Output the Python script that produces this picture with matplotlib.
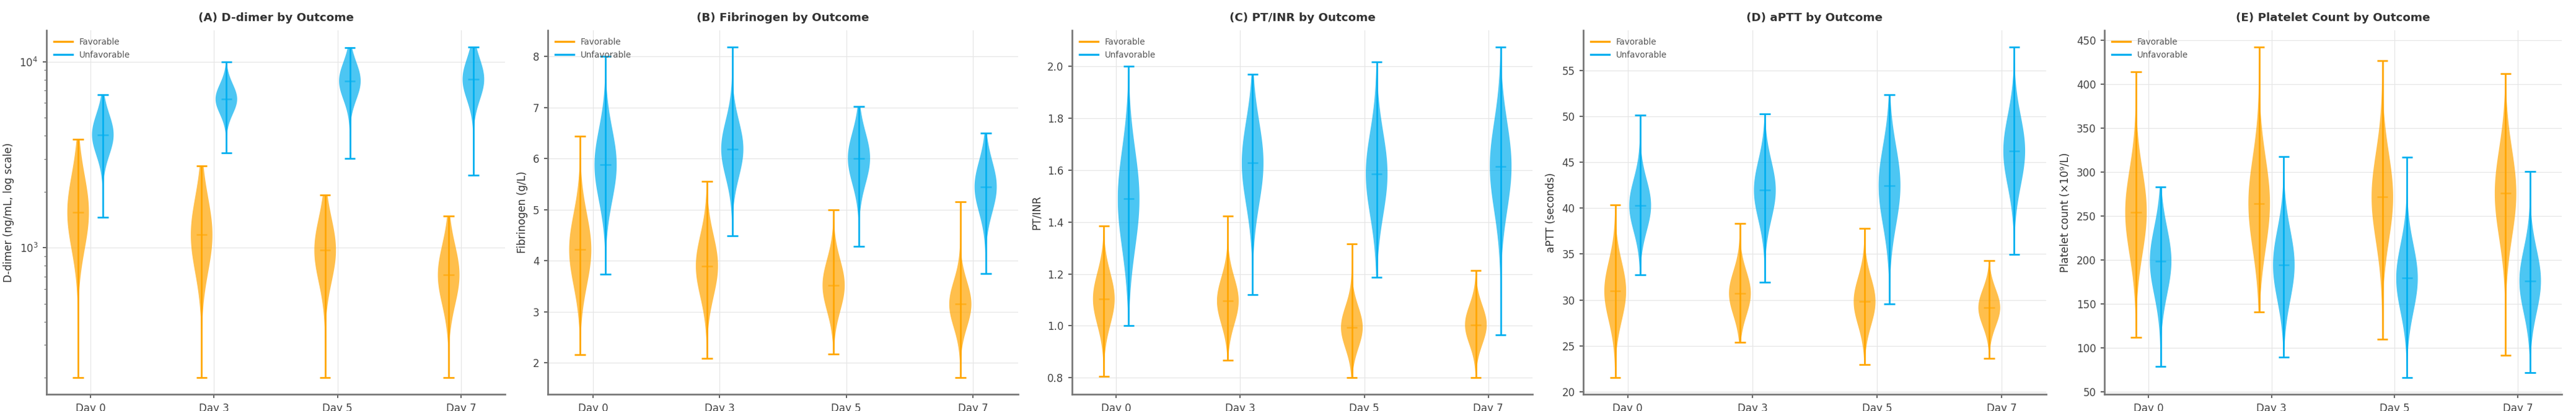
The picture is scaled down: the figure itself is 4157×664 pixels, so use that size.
import numpy as np
import matplotlib
matplotlib.use("Agg")
import matplotlib.pyplot as plt

# ---------------- data ----------------
days = ["Day 0", "Day 3", "Day 5", "Day 7"]
groups = ["Favorable", "Unfavorable"]

# (A) D-dimer, ng/mL (log scale) -- centre, min, max, spread (spread in log10 units)
ddimer_fav_center = [1549, 1172, 970, 714]
ddimer_fav_min = [200, 200, 200, 200]
ddimer_fav_max = [3811, 2750, 1914, 1477]
ddimer_fav_sd = [0.20, 0.20, 0.17, 0.16]
ddimer_unf_center = [4048, 6290, 7875, 8035]
ddimer_unf_min = [1452, 3243, 3013, 2462]
ddimer_unf_max = [6655, 10000, 11910, 12000]
ddimer_unf_sd = [0.11, 0.08, 0.10, 0.11]

# (B) Fibrinogen, g/L
fib_fav_center = [4.22, 3.90, 3.52, 3.15]
fib_fav_min = [2.16, 2.09, 2.18, 1.71]
fib_fav_max = [6.44, 5.56, 5.00, 5.16]
fib_fav_sd = [0.70, 0.60, 0.50, 0.45]
fib_unf_center = [5.88, 6.19, 6.01, 5.45]
fib_unf_min = [3.74, 4.49, 4.28, 3.75]
fib_unf_max = [8.00, 8.19, 7.02, 6.50]
fib_unf_sd = [0.70, 0.55, 0.50, 0.50]

# (C) PT/INR
inr_fav_center = [1.104, 1.096, 0.994, 1.004]
inr_fav_min = [0.806, 0.868, 0.800, 0.800]
inr_fav_max = [1.386, 1.424, 1.315, 1.214]
inr_fav_sd = [0.10, 0.09, 0.08, 0.075]
inr_unf_center = [1.489, 1.628, 1.586, 1.615]
inr_unf_min = [1.000, 1.121, 1.187, 0.965]
inr_unf_max = [2.000, 1.969, 2.016, 2.075]
inr_unf_sd = [0.19, 0.16, 0.16, 0.17]

# (D) aPTT, seconds
aptt_fav_center = [30.96, 30.72, 29.83, 29.15]
aptt_fav_min = [21.51, 25.39, 22.96, 23.61]
aptt_fav_max = [40.34, 38.33, 37.77, 34.27]
aptt_fav_sd = [3.2, 2.4, 2.6, 2.0]
aptt_unf_center = [40.31, 41.97, 42.47, 46.26]
aptt_unf_min = [32.73, 31.90, 29.53, 34.98]
aptt_unf_max = [50.14, 50.32, 52.36, 57.60]
aptt_unf_sd = [2.8, 3.2, 4.3, 3.8]

# (E) Platelet count, x10^9/L
plt_fav_center = [254.3, 264.2, 271.3, 275.6]
plt_fav_min = [111.7, 140.7, 109.6, 91.4]
plt_fav_max = [413.6, 442.3, 426.5, 412.0]
plt_fav_sd = [48, 52, 50, 50]
plt_unf_center = [198.5, 194.1, 179.0, 175.9]
plt_unf_min = [78.7, 89.2, 65.7, 71.6]
plt_unf_max = [282.7, 317.6, 316.4, 300.3]
plt_unf_sd = [38, 40, 38, 36]

panels = [
    dict(title="(A) D-dimer by Outcome", ylabel="D-dimer (ng/mL, log scale)", log=True,
         fav=(ddimer_fav_center, ddimer_fav_min, ddimer_fav_max, ddimer_fav_sd),
         unf=(ddimer_unf_center, ddimer_unf_min, ddimer_unf_max, ddimer_unf_sd)),
    dict(title="(B) Fibrinogen by Outcome", ylabel="Fibrinogen (g/L)", log=False,
         fav=(fib_fav_center, fib_fav_min, fib_fav_max, fib_fav_sd),
         unf=(fib_unf_center, fib_unf_min, fib_unf_max, fib_unf_sd)),
    dict(title="(C) PT/INR by Outcome", ylabel="PT/INR", log=False,
         fav=(inr_fav_center, inr_fav_min, inr_fav_max, inr_fav_sd),
         unf=(inr_unf_center, inr_unf_min, inr_unf_max, inr_unf_sd)),
    dict(title="(D) aPTT by Outcome", ylabel="aPTT (seconds)", log=False,
         fav=(aptt_fav_center, aptt_fav_min, aptt_fav_max, aptt_fav_sd),
         unf=(aptt_unf_center, aptt_unf_min, aptt_unf_max, aptt_unf_sd)),
    dict(title="(E) Platelet Count by Outcome", ylabel="Platelet count (×10⁹/L)", log=False,
         fav=(plt_fav_center, plt_fav_min, plt_fav_max, plt_fav_sd),
         unf=(plt_unf_center, plt_unf_min, plt_unf_max, plt_unf_sd)),
]

FAV_COLOR = "#FFA500"
UNF_COLOR = "#00AEEF"

# ---------------- figure ----------------
W, H, DPI = 4157, 664, 150
fig = plt.figure(figsize=(W / DPI, H / DPI), dpi=DPI)

ax_px = [(75, 815), (884, 1643), (1730, 2473), (2555, 3302), (3396, 4134)]
top_px, bot_px = 49, 637

base_pos = np.arange(len(days)) * 2.0
offset = 0.2
vwidth = 0.35


def make_stats(center, vmin, vmax, sd, log):
    stats = []
    for c, lo, hi, s in zip(center, vmin, vmax, sd):
        if log:
            c_, lo_, hi_ = np.log10(c), np.log10(lo), np.log10(hi)
        else:
            c_, lo_, hi_ = c, lo, hi
        coords = np.linspace(lo_, hi_, 200)
        vals = np.exp(-0.5 * ((coords - c_) / s) ** 2)
        if log:
            coords = 10 ** coords
        stats.append(dict(coords=coords, vals=vals, mean=c, median=c, min=lo, max=hi))
    return stats


for p, (x0, x1) in zip(panels, ax_px):
    ax = fig.add_axes([x0 / W, 1 - bot_px / H, (x1 - x0) / W, (bot_px - top_px) / H])
    for key, sign, color, label in (("fav", -1, FAV_COLOR, groups[0]),
                                     ("unf", 1, UNF_COLOR, groups[1])):
        st = make_stats(*p[key], log=p["log"])
        parts = ax.violin(st, positions=base_pos + sign * offset, widths=vwidth,
                          showmeans=False, showmedians=True, showextrema=True)
        for b in parts["bodies"]:
            b.set_facecolor(color)
            b.set_edgecolor("none")
            b.set_alpha(0.7)
        for k in ("cbars", "cmins", "cmaxes"):
            parts[k].set_color(color)
            parts[k].set_linewidth(1.3)
        parts["cmedians"].set_color(color)
        parts["cmedians"].set_alpha(0.6)
        parts["cmedians"].set_linewidth(1.3)
        ax.plot([], [], color=color, lw=1.6, label=label)

    if p["log"]:
        ax.set_yscale("log")
        lo = np.log10(min(min(p["fav"][1]), min(p["unf"][1])))
        hi = np.log10(max(max(p["fav"][2]), max(p["unf"][2])))
        pad = 0.05 * (hi - lo)
        ax.set_ylim(10 ** (lo - pad), 10 ** (hi + pad))

    ax.set_xticks(base_pos)
    ax.set_xticklabels(days)
    ax.set_title(p["title"], fontsize=8.8, fontweight="bold", color="#333333", pad=7)
    ax.set_ylabel(p["ylabel"], fontsize=8.2, color="#333333")
    ax.tick_params(axis="both", labelsize=8, colors="#444444", length=3, width=0.8)
    ax.tick_params(axis="y", which="minor", length=2, width=0.6, colors="#777777")
    for s in ("top", "right"):
        ax.spines[s].set_visible(False)
    for s in ("left", "bottom"):
        ax.spines[s].set_color("#777777")
        ax.spines[s].set_linewidth(1.3)
    ax.grid(True, which="major", color="#e6e6e6", linewidth=0.6)
    ax.set_axisbelow(True)
    ax.legend(loc="upper left", frameon=False, fontsize=6.5, handlelength=2.2,
              labelcolor="#555555")

fig.savefig("out.png", dpi=DPI)
